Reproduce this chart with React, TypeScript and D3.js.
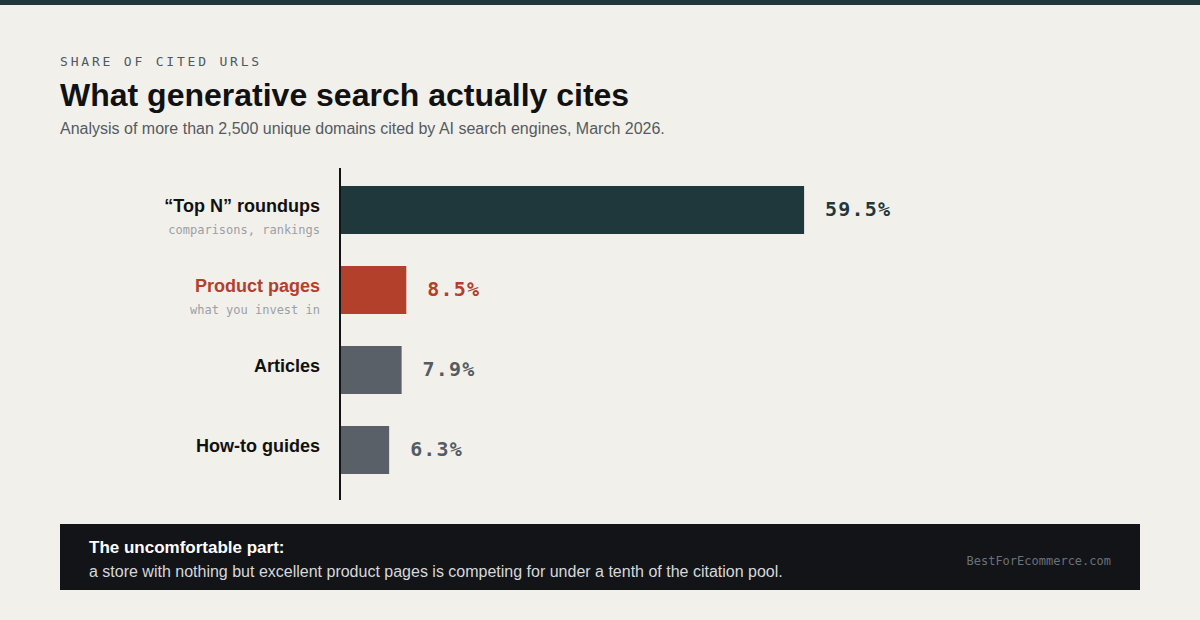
import React, { useEffect, useRef } from "react";
import * as d3 from "d3";

const categories = ["“Top N” roundups", "Product pages", "Articles", "How-to guides"];
const subLabels = ["comparisons, rankings", "what you invest in", "", ""];
const shares = [59.5, 8.5, 7.9, 6.3];
const barColors = ["#1f383c", "#b2402b", "#5a6068", "#5a6068"];
const valueColors = ["#1f383c", "#b2402b", "#555b63", "#555b63"];
const labelColors = ["#111111", "#b2402b", "#111111", "#111111"];

const SANS = "'Liberation Sans', Arial, sans-serif";
const MONO = "'DejaVu Sans Mono', monospace";

export default function App() {
  const ref = useRef<SVGSVGElement | null>(null);

  useEffect(() => {
    const svg = d3.select(ref.current);
    svg.selectAll("*").remove();
    const W = 1200, H = 620;

    svg.append("rect").attr("width", W).attr("height", H).attr("fill", "#f2f0eb");
    svg.append("rect").attr("width", W).attr("height", 5).attr("fill", "#1f383c");

    // header
    svg.append("text").attr("x", 60).attr("y", 66)
      .attr("font-family", MONO).attr("font-size", 13).attr("letter-spacing", 2.8)
      .attr("fill", "#4f5860").text("SHARE OF CITED URLS");
    svg.append("text").attr("x", 60).attr("y", 106)
      .attr("font-family", SANS).attr("font-size", 32).attr("font-weight", 700)
      .attr("fill", "#111111").text("What generative search actually cites");
    svg.append("text").attr("x", 60).attr("y", 134)
      .attr("font-family", SANS).attr("font-size", 16)
      .attr("fill", "#555a60").text("Analysis of more than 2,500 unique domains cited by AI search engines, March 2026.");

    // scales
    const x = d3.scaleLinear().domain([0, 100]).range([340, 1120]);
    const y = d3.scaleBand<number>().domain(d3.range(categories.length))
      .range([170, 490]).paddingInner(0.4).paddingOuter(0.2);
    const mid = (i: number) => y(i)! + y.bandwidth() / 2;

    const g = svg.append("g");
    g.selectAll("rect.bar").data(shares).enter().append("rect")
      .attr("class", "bar")
      .attr("x", x(0))
      .attr("y", (_d, i) => y(i)!)
      .attr("width", d => x(d) - x(0))
      .attr("height", y.bandwidth())
      .attr("fill", (_d, i) => barColors[i]);

    g.selectAll("text.val").data(shares).enter().append("text")
      .attr("class", "val")
      .attr("x", d => x(d) + 21)
      .attr("y", (_d, i) => mid(i) + 6)
      .attr("font-family", MONO).attr("font-size", 20).attr("font-weight", 700)
      .attr("letter-spacing", 1.2)
      .attr("fill", (_d, i) => valueColors[i])
      .text(d => d.toFixed(1) + "%");

    g.selectAll("text.cat").data(categories).enter().append("text")
      .attr("class", "cat")
      .attr("x", 320)
      .attr("y", (_d, i) => mid(i) + (subLabels[i] ? 2 : 2))
      .attr("text-anchor", "end")
      .attr("font-family", SANS).attr("font-size", 18).attr("font-weight", 700)
      .attr("fill", (_d, i) => labelColors[i])
      .text(d => d);

    g.selectAll("text.sub").data(subLabels).enter().append("text")
      .attr("class", "sub")
      .attr("x", 320)
      .attr("y", (_d, i) => mid(i) + 24)
      .attr("text-anchor", "end")
      .attr("font-family", MONO).attr("font-size", 12)
      .attr("fill", "#9aa0a6")
      .text(d => d);

    // axis line
    svg.append("line").attr("x1", 340).attr("x2", 340).attr("y1", 168).attr("y2", 500)
      .attr("stroke", "#111418").attr("stroke-width", 2);

    // callout
    svg.append("rect").attr("x", 60).attr("y", 524).attr("width", 1080).attr("height", 66)
      .attr("fill", "#121418");
    svg.append("text").attr("x", 89).attr("y", 553)
      .attr("font-family", SANS).attr("font-size", 17).attr("font-weight", 700)
      .attr("fill", "#ffffff").text("The uncomfortable part:");
    svg.append("text").attr("x", 89).attr("y", 577)
      .attr("font-family", SANS).attr("font-size", 16)
      .attr("fill", "#d6d8db").text("a store with nothing but excellent product pages is competing for under a tenth of the citation pool.");
    svg.append("text").attr("x", 1111).attr("y", 565).attr("text-anchor", "end")
      .attr("font-family", MONO).attr("font-size", 12)
      .attr("fill", "#6b7178").text("BestForEcommerce.com");
  }, []);

  return (
    <svg ref={ref} width={1200} height={620}
      style={{ position: "absolute", left: 0, top: 0, display: "block" }} />
  );
}
